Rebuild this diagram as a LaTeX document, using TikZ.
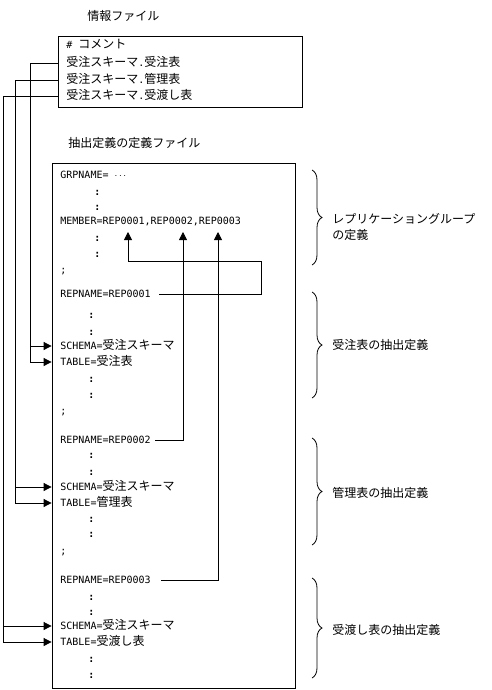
\documentclass[tikz,border=0pt]{standalone}
\usepackage{fontspec}
\setmainfont{DejaVu Sans Mono}
\newfontfamily\jpfont[Scale=1.2]{Noto Sans CJK JP}
\newcommand{\ja}[1]{{\jpfont #1}}
\usetikzlibrary{arrows.meta}
\usetikzlibrary{decorations.pathreplacing}
\tikzset{tx/.style={anchor=west,inner sep=0pt,text height=7pt,text depth=0pt,font=\fontsize{10}{12}\selectfont}}
\tikzset{dt/.style={tx,font=\fontsize{10}{12}\selectfont\bfseries}}
\tikzset{ar/.style={-{Triangle[length=8pt,width=8pt]}}}
\tikzset{br/.style={decorate,decoration={brace,amplitude=10pt}}}

\begin{document}
\begin{tikzpicture}[x=1pt,y=-1pt,line width=0.8pt]
          \useasboundingbox (0,0) rectangle (491,690);
          % info file
          \node[tx] (infotitle) at (87,17) {\ja{情報ファイル}};
          \node[draw,minimum width=244pt,minimum height=71pt,inner sep=0pt] (infobox) at (180,71.5) {};
          \node[tx] (c0) at (66,45) {\#\ \ja{コメント}};
          \node[tx] (c1) at (66,63) {\ja{受注スキーマ}.\ja{受注表}};
          \node[tx] (c2) at (66,80) {\ja{受注スキーマ}.\ja{管理表}};
          \node[tx] (c3) at (66,96) {\ja{受注スキーマ}.\ja{受渡し表}};
          % definition file
          \node[tx] (deftitle) at (68,144) {\ja{抽出定義の定義ファイル}};
          \node[draw,minimum width=243pt,minimum height=525pt,inner sep=0pt] (defbox) at (173.5,425.5) {};
          \node[tx] (grp) at (60,175) {GRPNAME= $\cdots$};
          \node[tx] (mem) at (60,221) {MEMBER=REP0001,REP0002,REP0003};
          \node[tx] (end0) at (60,270) {;};
          \foreach \y in {192,207,238,254}
            \node[dt] (d\y) at (94,\y) {:};
          \node[tx] (rep1) at (60,294) {REPNAME=REP0001};
          \node[tx] (sch1) at (60,346) {SCHEMA=\ja{受注スキーマ}};
          \node[tx] (tab1) at (60,362) {TABLE=\ja{受注表}};
          \node[tx] (end1) at (60,411) {;};
          \node[tx] (rep2) at (60,440) {REPNAME=REP0002};
          \node[tx] (sch2) at (60,487) {SCHEMA=\ja{受注スキーマ}};
          \node[tx] (tab2) at (60,503) {TABLE=\ja{管理表}};
          \node[tx] (end2) at (60,551) {;};
          \node[tx] (rep3) at (60,580) {REPNAME=REP0003};
          \node[tx] (sch3) at (60,626) {SCHEMA=\ja{受注スキーマ}};
          \node[tx] (tab3) at (60,642) {TABLE=\ja{受渡し表}};
          \foreach \y in {315,332,379,395,455,472,519,534,597,612,659,675}
            \node[dt] (d\y) at (88,\y) {:};
          % lanes and member targets
          \coordinate (lane1) at (30,0);
          \coordinate (lane2) at (15,0);
          \coordinate (lane3) at (3,0);
          \coordinate (m1) at (128,232);
          \coordinate (m2) at (183,232);
          \coordinate (m3) at (218,232);
          \coordinate (k1) at (261,261);
          % schema / table references
          \draw[ar] (infobox.west |- c1) -| (lane1 |- tab1) -- (defbox.west |- tab1);
          \draw[ar] (lane1 |- sch1) -- (defbox.west |- sch1);
          \draw[ar] (infobox.west |- c2) -| (lane2 |- tab2) -- (defbox.west |- tab2);
          \draw[ar] (lane2 |- sch2) -- (defbox.west |- sch2);
          \draw[ar] (infobox.west |- c3) -| (lane3 |- tab3) -- (defbox.west |- tab3);
          \draw[ar] (lane3 |- sch3) -- (defbox.west |- sch3);
          % member references
          \draw[ar,shorten <=8pt] (rep1.east) -| (k1) -| (m1);
          \draw[ar,shorten <=4pt] (rep2.east) -| (m2);
          \draw[ar,shorten <=10pt] (rep3.east) -| (m3);
          % braces
          \draw[br] (312,170) -- (312,265);
          \draw[br] (312,292) -- (312,398);
          \draw[br] (312,438) -- (312,545);
          \draw[br] (312,578) -- (312,678);
          \begin{scope}[font=\jpfont\fontsize{10}{16}\selectfont]
            \node[anchor=west,align=left,inner sep=0pt] (lbl0) at (332,227) {レプリケーショングループ\\の定義};
            \node[anchor=west,inner sep=0pt] (lbl1) at (332,345) {受注表の抽出定義};
            \node[anchor=west,inner sep=0pt] (lbl2) at (332,493) {管理表の抽出定義};
            \node[anchor=west,inner sep=0pt] (lbl3) at (332,630) {受渡し表の抽出定義};
          \end{scope}
        \end{tikzpicture}
\end{document}
